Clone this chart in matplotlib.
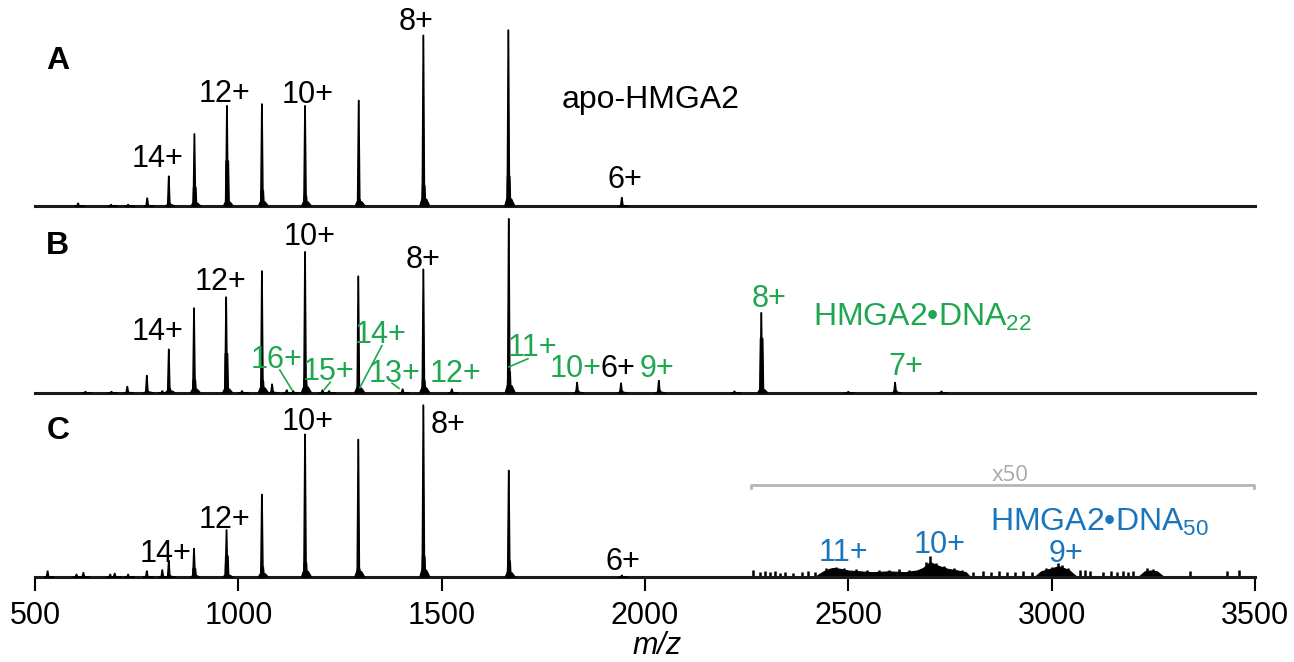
import numpy as np
import matplotlib.pyplot as plt

plt.rcParams['font.family'] = ['Liberation Sans', 'DejaVu Sans']
plt.rcParams['mathtext.fontset'] = 'custom'
plt.rcParams['mathtext.rm'] = 'Liberation Sans'

GREEN = '#1fa64f'
BLUE = '#1b75bb'
GREY = '#b5b5b5'

# ---- peak lists (m/z, relative intensity %, shoulder fraction)
a_mz = [606, 687, 729, 776, 829, 892, 972, 1058, 1164, 1296, 1455, 1664, 1943]
a_int = [1.5, 0.8, 0.8, 4.4, 17, 41, 57, 58, 57, 60, 97, 100, 4.7]
a_sh = [0, 0, 0, 0.1, 0.1, 0.26, 0.45, 0.15, 0.1, 0.06, 0.12, 0.17, 0.1]

b_mz = [624, 688, 727, 775, 813, 829, 891, 970, 1009, 1058, 1083, 1119, 1135,
        1164, 1207, 1223, 1295, 1404, 1455, 1525, 1665, 1833, 1941, 2034, 2220,
        2286, 2500, 2615, 2729]
b_int = [0.6, 0.6, 3.5, 9.8, 1, 25, 48.7, 55, 1, 70, 4.8, 1.5, 1,
         81, 1.5, 1, 67, 2, 71, 2, 100, 5.8, 5.4, 6.9, 0.8,
         46, 0.6, 5.8, 0.8]
b_sh = [0, 0, 0.1, 0.1, 0, 0.1, 0.15, 0.41, 0, 0.1, 0.1, 0, 0,
        0.1, 0, 0, 0.06, 0, 0.1, 0.1, 0.12, 0.2, 0.2, 0.2, 0,
        0.68, 0, 0.2, 0]

c_mz = [531, 602, 619, 685, 696, 729, 775, 813, 829, 891, 971, 1058, 1164,
        1295, 1455, 1665, 1943]
c_int = [3.4, 1.5, 2.5, 1.5, 2, 1.5, 3.4, 4, 9.4, 16.6, 27.4, 48, 83,
         80, 100, 62, 1]
c_sh = [0.1, 0, 0, 0, 0, 0, 0.1, 0.1, 0.1, 0.3, 0.45, 0.12, 0.1,
        0.06, 0.12, 0.15, 0]

# x50 magnified region of panel C
x50_spike_mz = [2266, 2283, 2295, 2307, 2320, 2332, 2344, 2365, 2385, 2402, 2418,
                2445, 2470, 2490, 2520, 2545,
                2575, 2600, 2625, 2650, 2690, 2700, 2715, 2735, 2760, 2780,
                2807, 2830, 2850, 2870, 2890, 2910, 2930,
                2951, 2985, 3000, 3015, 3025, 3040, 3070, 3082, 3094, 3127, 3147,
                3160, 3176, 3188, 3201, 3235, 3250, 3340, 3430, 3461]
x50_spike_int = [4, 3, 3.5, 3, 3.5, 2.5, 3, 2.5, 3, 3.5, 3,
                 5, 6, 5.5, 4.5, 4,
                 4, 4, 4.5, 4, 9, 12, 8, 6.5, 5, 4,
                 3, 3.5, 3, 3.5, 3, 3, 3.5,
                 3, 5, 6, 8, 7, 5, 4, 4, 3.5, 3, 3.5,
                 3, 3.5, 3, 3.5, 5, 4.5, 3.5, 3.5, 4]
hump1_mz = [2420, 2440, 2455, 2465, 2480, 2500, 2530, 2560, 2600, 2640, 2670,
            2685, 2695, 2702, 2710, 2725, 2745, 2770, 2790, 2800]
hump1_int = [0, 3, 4.5, 5, 4.5, 3.5, 3, 2.5, 3, 2.5, 3.5,
             5, 7, 8.5, 7.5, 6, 4.5, 3.5, 2.5, 0]
hump2_mz = [2960, 2975, 2990, 3005, 3018, 3030, 3045, 3062]
hump2_int = [0, 3, 4, 5, 6, 5, 3.5, 0]
hump3_mz = [3215, 3230, 3244, 3260, 3276]
hump3_int = [0, 3, 3.5, 3, 0]

ticks = [500, 1000, 1500, 2000, 2500, 3000, 3500]


def draw_peaks(ax, mz, inten, sh):
    for c, h, s in zip(mz, inten, sh):
        # tapered spike
        ax.fill([c - 3, c - 0.5, c + 0.5, c + 3], [0, h, h, 0],
                color='k', lw=1.0, clip_on=False, zorder=3)
        # adduct shoulder and foot
        if s > 0:
            sv = s * h
            ax.fill([c - 4, c - 2.5, c + 4, c + 6], [0, sv, sv, 0],
                    color='k', lw=0.8, clip_on=False, zorder=3)
        ft = 0.04 * h
        ax.fill([c - 9, c - 4, c + 8, c + 16], [0, ft, ft, 0],
                color='k', lw=0.8, clip_on=False, zorder=3)


fig = plt.figure(figsize=(12.94, 6.62), dpi=100)
left, width = 35 / 1294, 1220 / 1294
axA = fig.add_axes([left, 1 - 206 / 662, width, 176 / 662])
axB = fig.add_axes([left, 1 - 392.7 / 662, width, 174 / 662])
axC = fig.add_axes([left, 1 - 577 / 662, width, 172 / 662])

for ax in (axA, axB, axC):
    ax.set_xlim(500, 3500)
    ax.set_ylim(0, 100)
    ax.patch.set_visible(False)
    for sp in ('top', 'left', 'right'):
        ax.spines[sp].set_visible(False)
    ax.spines['bottom'].set_linewidth(2.2)
    ax.spines['bottom'].set_color('#1a1a1a')
    ax.set_yticks([])
for ax in (axA, axB):
    ax.set_xticks([])

axC.set_xticks(ticks)
axC.tick_params(axis='x', direction='out', length=10, width=1.5, labelsize=22, pad=7)

draw_peaks(axA, a_mz, a_int, a_sh)
draw_peaks(axB, b_mz, b_int, b_sh)
draw_peaks(axC, c_mz, c_int, c_sh)

# magnified part of C
axC.vlines(x50_spike_mz, 0, x50_spike_int, color='k', lw=1.8)
for hx, hy in ((hump1_mz, hump1_int), (hump2_mz, hump2_int), (hump3_mz, hump3_int)):
    axC.fill(hx, hy, color='k', lw=0.8)
axC.plot([2261, 2261, 3497, 3497], [51.5, 53.5, 53.5, 51.5], color=GREY, lw=2, clip_on=False)
axC.text(2898, 56, 'x50', color='#a8a8a8', fontsize=16, ha='center', va='baseline',
         family=['Open Sans', 'DejaVu Sans'])

fs = 22
def lab(ax, x, y, s, color='k', ha='center', size=fs, **kw):
    ax.text(x, y, s, color=color, fontsize=size, ha=ha, va='baseline', zorder=5, **kw)

# panel A
lab(axA, 556, 78, 'A', size=23, weight='bold')
lab(axA, 802, 22, '14+')
lab(axA, 966, 59, '12+')
lab(axA, 1171, 58.5, '10+')
lab(axA, 1437, 100, '8+')
lab(axA, 1951, 10, '6+')
lab(axA, 2015, 55.7, 'apo-HMGA2', size=23)

# panel B
lab(axB, 556, 80, 'B', size=23, weight='bold')
lab(axB, 802, 30, '14+')
lab(axB, 957, 59, '12+')
lab(axB, 1176, 85, '10+')
lab(axB, 1454, 71.5, '8+')
lab(axB, 1934, 9, '6+')
lab(axB, 1095, 14, '16+', color=GREEN)
lab(axB, 1221, 7.3, '15+', color=GREEN)
lab(axB, 1350, 28.5, '14+', color=GREEN)
lab(axB, 1385, 6, '13+', color=GREEN)
lab(axB, 1535, 6, '12+', color=GREEN)
lab(axB, 1722, 21, '11+', color=GREEN)
lab(axB, 1830, 9, '10+', color=GREEN)
lab(axB, 2030, 9, '9+', color=GREEN)
lab(axB, 2305, 49, '8+', color=GREEN)
lab(axB, 2642, 10, '7+', color=GREEN)
lab(axB, 2413, 38.5, 'HMGA2\u2022DNA$_{22}$', color=GREEN, ha='left', size=23)
for (x0, y0), (x1, y1) in [((1102, 13), (1132, 1.6)), ((1226, 6), (1212, 2)),
                           ((1353, 27), (1299, 3)), ((1378, 5.5), (1395, 2.5)),
                           ((1712, 19.5), (1665, 14.8))]:
    axB.plot([x0, x1], [y0, y1], color=GREEN, lw=1.2, zorder=4)

# panel C
lab(axC, 556, 80, 'C', size=23, weight='bold')
lab(axC, 820, 8.7, '14+')
lab(axC, 965, 28.5, '12+')
lab(axC, 1171, 85.5, '10+')
lab(axC, 1515, 84, '8+')
lab(axC, 1946, 4, '6+')
lab(axC, 2488, 9.5, '11+', color=BLUE)
lab(axC, 2725, 14, '10+', color=BLUE)
lab(axC, 3035, 8.5, '9+', color=BLUE)
lab(axC, 2848, 27, 'HMGA2\u2022DNA$_{50}$', color=BLUE, ha='left', size=23)

axC.text(2030, -44.5, 'm/z', fontsize=22, style='italic', ha='center', va='baseline',
         transform=axC.transData)

fig.savefig('out.png', dpi=100)
